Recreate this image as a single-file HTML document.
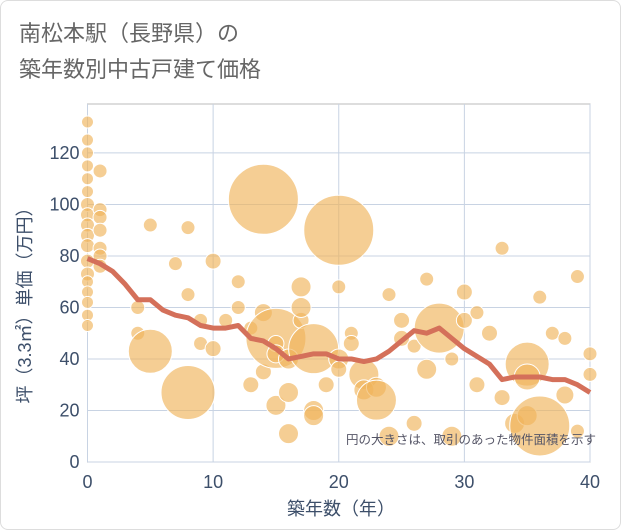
<!DOCTYPE html>
<html><head><meta charset="utf-8"><style>
body{margin:0;background:#fff;font-family:"Liberation Sans","Noto Sans CJK JP",sans-serif}
#wrap{position:relative;width:619px;height:528px;border:1px solid #ddd;border-radius:8px;overflow:hidden}
</style></head><body>
<div id="wrap">
<svg id="chart" width="621" height="530">
<text x="18" y="40" font-size="22" fill="#666" font-family="Liberation Sans, Noto Sans CJK JP, sans-serif">南松本駅（長野県）の</text>
<text x="18" y="76" font-size="22" fill="#666" font-family="Liberation Sans, Noto Sans CJK JP, sans-serif">築年数別中古戸建て価格</text>
<g id="grid"></g><g id="bubbles"></g><g id="line"></g><g id="axes"></g>
<text x="595" y="443" font-size="12.5" fill="#556" text-anchor="end" font-family="Liberation Sans, Noto Sans CJK JP, sans-serif">円の大きさは、取引のあった物件面積を示す</text>
<text x="340" y="514" font-size="18" fill="#3d4f6a" text-anchor="middle" font-family="Liberation Sans, Noto Sans CJK JP, sans-serif">築年数（年）</text>
<text transform="translate(30,300) rotate(-90)" font-size="18" fill="#3d4f6a" text-anchor="middle" font-family="Liberation Sans, Noto Sans CJK JP, sans-serif">坪（3.3㎡）単価（万円）</text>
</svg></div>
<script>
const xTicks=[0,10,20,30,40];
const yTicks=[0,20,40,60,80,100,120];
const trendYears=[0,1,2,3,4,5,6,7,8,9,10,11,12,13,14,15,16,17,18,19,20,21,22,23,24,25,26,27,28,29,30,31,32,33,34,35,36,37,38,39,40];
const trendValues=[79,77,74,69,63,63,59,57,56,53,52,52,53,48,47,44,40,41,42,42,40,40,39,40,43,47,51,50,52,48,44,41,38,32,33,33,33,32,32,30,27];
const bubbleX=[0,0,0,0,0,0,0,0,0,0,0,0,0,0,0,0,0,0,1,1,1,1,1,1,1,4,4,5,5,7,8,8,8,9,9,10,10,11,12,12,13,13,14,14,14,15,15,15,15,16,16,17,17,18,18,18,19,20,20,20,20,21,21,22,22,23,23,24,25,25,26,27,27,28,29,29,30,30,31,31,32,33,33,34,35,35,36,36,37,38,38,39,39,40,40,16,17,24,26,35];
const bubbleY=[132,125,120,115,110,105,100,96,92,88,84,78,73,70,66,62,57,53,113,98,95,90,83,80,76,60,50,92,43,77,91,65,27,55,46,78,44,55,70,60,52,30,102,58,35,48,22,46,42,40,27,68,55,20,44,18,30,90,68,40,36,50,46,34,28,29,24,65,55,48,45,71,36,52,40,10,66,55,58,30,50,83,25,15,38,18,64,14,50,48,26,72,12,42,34,11,60,10,15,33];
const bubbleR=[6,6,6,6,6,6,7,7,7,7,7,7,7,6,6,6,6,6,7,7,7,7,7,7,7,7,7,7,22,7,7,7,27,7,7,8,8,7,7,7,7,8,35,9,8,30,10,8,9,10,10,10,8,10,25,10,8,35,7,10,8,7,8,15,10,10,20,7,8,8,7,7,10,25,7,10,8,8,7,8,8,7,8,10,22,10,7,30,7,7,9,7,7,7,7,10,10,10,8,13];
const NS='http://www.w3.org/2000/svg';
const L=86.5,R=589,T=103,B=461;
const xs=v=>L+(v/40)*(R-L);
const ys=v=>B-(v/139)*(B-T);
function mk(t,a,p){const e=document.createElementNS(NS,t);for(const k in a)e.setAttribute(k,a[k]);p.appendChild(e);return e;}
const grid=document.getElementById('grid'),axes=document.getElementById('axes');
mk('rect',{x:L,y:T,width:R-L,height:B-T,fill:'#fff',stroke:'#bbb'},grid);
xTicks.forEach(t=>{
 const g=mk('line',{x1:xs(t),x2:xs(t),y1:T,y2:B,stroke:'#c8d3e3'},grid);
 
 
 const tx=mk('text',{x:xs(t),y:B+26,'font-size':18,fill:'#3d4f6a','text-anchor':'middle'},axes);
 tx.textContent=t;
 
 
});
yTicks.forEach(t=>{
 const g=mk('line',{x1:L,x2:R,y1:ys(t),y2:ys(t),stroke:'#c8d3e3'},grid);
 
 
 const tx=mk('text',{x:L-8,y:ys(t)+6,'font-size':18,fill:'#3d4f6a','text-anchor':'end'},axes);
 tx.textContent=t;
 
 
});
const bg=document.getElementById('bubbles');
bubbleX.forEach((x,i)=>{
 const c=mk('circle',{cx:xs(x),cy:ys(bubbleY[i]),r:bubbleR[i],fill:'rgba(240,180,90,0.65)',stroke:'#fff','stroke-width':1},bg);
 
 
});
const pts=trendYears.map((y,i)=>xs(y)+','+ys(trendValues[i])).join(' ');
const pl=mk('polyline',{points:pts,fill:'none',stroke:'#d4705a','stroke-width':5,'stroke-linejoin':'round'},document.getElementById('line'));


</script>
</body></html>
